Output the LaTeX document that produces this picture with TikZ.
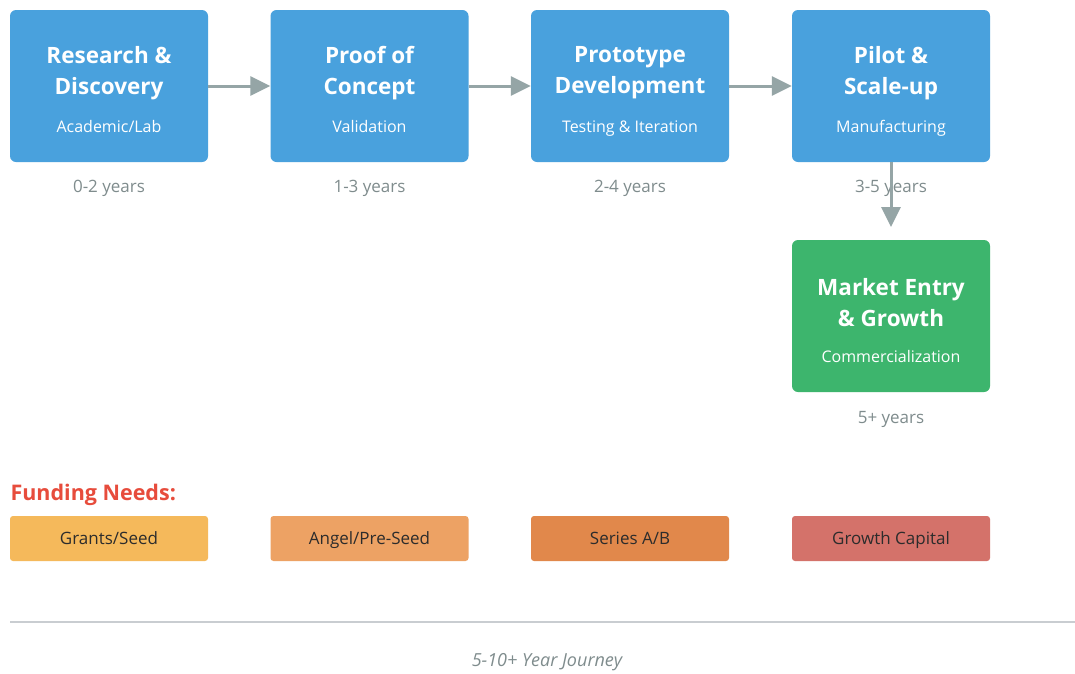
\documentclass[tikz,border=0pt]{standalone}
\usepackage{fontspec}
\setmainfont{Open Sans}
\usetikzlibrary{arrows.meta}
\definecolor{stageblue}{HTML}{49A1DD}
\definecolor{stagegreen}{HTML}{3DB56D}
\definecolor{arrowgray}{HTML}{95A5A6}
\definecolor{yeargray}{HTML}{7F8C8D}
\definecolor{fundred}{HTML}{E74C3C}
\definecolor{fundA}{HTML}{F5B95B}
\definecolor{fundB}{HTML}{EDA264}
\definecolor{fundC}{HTML}{E1884B}
\definecolor{fundD}{HTML}{D4726A}
\definecolor{rulegray}{HTML}{C9CDD1}
\definecolor{darktext}{HTML}{2C2C2C}
\begin{document}
\begin{tikzpicture}[x=1pt,y=-1pt,
  stagebox/.style={rounded corners=6pt, minimum width=198pt, minimum height=152pt,
    inner sep=0pt, draw=none},
  stagetitle/.style={text=white, font=\fontsize{22.5}{31}\selectfont\bfseries, align=center},
  stagesub/.style={text=white, font=\fontsize{16}{18}\selectfont,
    text height=1.0em, text depth=0.15em},
  yearlbl/.style={text=yeargray, font=\fontsize{17}{19}\selectfont,
    text height=1.0em, text depth=0.16em},
  fundbox/.style={rounded corners=3pt, minimum width=198pt, minimum height=45pt,
    inner sep=0pt, text=darktext, font=\fontsize{17}{19}\selectfont,
    text height=1.25em, text depth=0.12em},
  flow/.style={draw=arrowgray, line width=3pt,
    -{Triangle[length=20pt,width=19pt]}}
]
\useasboundingbox (0,0) rectangle (1075,673);
\fill[white] (0,0) rectangle (1075,673);

% stage boxes
\node[stagebox, fill=stageblue] (s1) at (109,86) {};
\node[stagebox, fill=stageblue] (s2) at (369.5,86) {};
\node[stagebox, fill=stageblue] (s3) at (630,86) {};
\node[stagebox, fill=stageblue] (s4) at (891,86) {};
\node[stagebox, fill=stagegreen] (s5) at (891,316) {};

% stage texts
\node[stagetitle] (t1) at (109,73) {Research \&\\Discovery};
\node[stagesub] (u1) at (109,128.5) {Academic/Lab};
\node[stagetitle] (t2) at (369.5,73) {Proof of\\Concept};
\node[stagesub] (u2) at (369.5,128.5) {Validation};
\node[stagetitle] (t3) at (630,73) {Prototype\\Development};
\node[stagesub] (u3) at (630,128.5) {Testing \& Iteration};
\node[stagetitle] (t4) at (891,73) {Pilot \&\\Scale-up};
\node[stagesub] (u4) at (891,128.5) {Manufacturing};
\node[stagetitle] (t5) at (891,303) {Market Entry\\\& Growth};
\node[stagesub] (u5) at (891,358.5) {Commercialization};

% durations
\node[yearlbl] (y1) at (109,188.5) {0-2 years};
\node[yearlbl] (y2) at (369.5,188.5) {1-3 years};
\node[yearlbl] (y3) at (630,188.5) {2-4 years};
\node[yearlbl] (y4) at (891,188.5) {3-5 years};
\node[yearlbl] (y5) at (891,419.5) {5+ years};

% flow arrows
\draw[flow] (s1.east) -- (s2.west);
\draw[flow] (s2.east) -- (s3.west);
\draw[flow] (s3.east) -- (s4.west);
\coordinate (dn) at (891,227);
\draw[flow] (s4.south) -- (dn);

% funding
\node[anchor=west, text=fundred, font=\fontsize{21.5}{24}\selectfont\bfseries] (fh) at (7,495) {Funding Needs:};
\node[fundbox, fill=fundA] (f1) at (109,538.5) {Grants/Seed};
\node[fundbox, fill=fundB] (f2) at (369.5,538.5) {Angel/Pre-Seed};
\node[fundbox, fill=fundC] (f3) at (630,538.5) {Series A/B};
\node[fundbox, fill=fundD] (f4) at (891,538.5) {Growth Capital};

% timeline footer
\coordinate (rl) at (10,622);
\coordinate (rr) at (1075,622);
\draw[rulegray, line width=2pt] (rl) -- (rr);
\node[text=yeargray, font=\fontsize{18}{20}\selectfont\itshape] (ft) at (547,662) {5-10+ Year Journey};
\end{tikzpicture}
\end{document}
